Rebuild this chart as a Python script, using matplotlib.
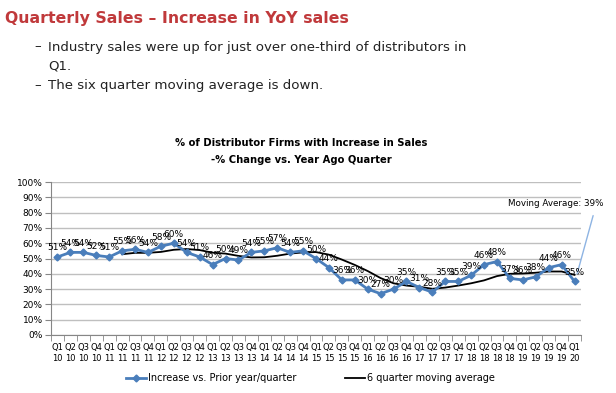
import matplotlib.pyplot as plt
import numpy as np

# Données
quarters = ["Q1", "Q2", "Q3", "Q4"]
years = ["10", "11", "12", "13", "14", "15", "16", "17", "18", "19", "20"]
tick_labels = [q + "\n" + y for y in years for q in quarters][:41]

increase = [51, 54, 54, 52, 51, 55, 56, 54, 58, 60, 54, 51, 46, 50, 49, 54,
            55, 57, 54, 55, 50, 44, 36, 36, 30, 27, 30, 35, 31, 28, 35, 35,
            39, 46, 48, 37, 36, 38, 44, 46, 35]

# moyenne mobile 6 trimestres (commence au Q2 11)
moving_avg = [52.8, 53.7, 53.7, 54.3, 55.7, 56.2, 55.5, 53.8, 53.2, 51.7,
              50.7, 50.8, 51.8, 53.2, 54.0, 54.2, 52.5, 49.3, 45.8, 41.8,
              37.2, 33.8, 32.3, 31.5, 30.2, 31.0, 32.3, 33.8, 35.7, 38.5,
              40.0, 40.2, 40.7, 41.5, 41.5, 39.3]

W, H = 616, 393
fig = plt.figure(figsize=(W / 100, H / 100), dpi=100)

# En-tête de la diapositive
fig.text(5 / W, 1 - 19 / H, "Quarterly Sales \u2013 Increase in YoY sales",
         color="#C0393B", fontsize=11.3, fontweight="bold", va="center")
fig.text(34 / W, 1 - 47 / H, "\u2013", fontsize=9.6, color="#222222", va="center")
fig.text(48 / W, 1 - 47 / H,
         "Industry sales were up for just over one-third of distributors in",
         fontsize=9.6, color="#222222", va="center")
fig.text(48 / W, 1 - 66 / H, "Q1.", fontsize=9.6, color="#222222", va="center")
fig.text(34 / W, 1 - 86 / H, "\u2013", fontsize=9.6, color="#222222", va="center")
fig.text(48 / W, 1 - 86 / H, "The six quarter moving average is down.",
         fontsize=9.6, color="#222222", va="center")

# Titre du graphique
fig.text(301 / W, 1 - 143 / H, "% of Distributor Firms with Increase in Sales",
         fontsize=7.2, fontweight="bold", ha="center", va="center")
fig.text(301 / W, 1 - 160 / H, "-% Change vs. Year Ago Quarter",
         fontsize=7.2, fontweight="bold", ha="center", va="center")

ax = fig.add_axes([51 / W, 58 / H, 530 / W, 153 / H])

x = np.arange(len(increase))
x_ma = np.arange(5, 5 + len(moving_avg))

ax.plot(x_ma, moving_avg, color="black", lw=1.3, zorder=2)
ax.plot(x, increase, color="#4A7EBB", lw=2, marker="D", ms=3.5, zorder=3)

for xi, v in zip(x, increase):
    ax.text(xi, v + 3, f"{v}%", fontsize=6.5, ha="center", va="bottom", zorder=4)

ax.annotate("Moving Average: 39%", xy=(40.2, 40), xytext=(603, H - 203),
            textcoords="figure pixels", fontsize=6.3, ha="right", va="center",
            annotation_clip=False,
            arrowprops=dict(arrowstyle="-", color="#8EB4E3", lw=1,
                            shrinkA=4, shrinkB=0, relpos=(0.92, 0)))

ax.set_xlim(-0.5, len(increase) - 0.5)
ax.set_ylim(0, 100)
ax.set_yticks(np.arange(0, 101, 10))
ax.set_yticklabels([f"{t}%" for t in range(0, 101, 10)], fontsize=6.5)
ax.set_xticks(x)
ax.set_xticklabels(tick_labels, fontsize=6)
ax.set_xticks(np.arange(-0.5, len(increase), 1), minor=True)
ax.tick_params(axis="x", which="major", length=0, pad=6)
ax.tick_params(axis="x", which="minor", length=4, color="#868686")
ax.tick_params(axis="y", length=4, color="#868686", pad=2)

ax.grid(axis="y", color="#BFBFBF", lw=1)
ax.set_axisbelow(True)
for s in ["top", "right"]:
    ax.spines[s].set_visible(False)
for s in ["left", "bottom"]:
    ax.spines[s].set_color("#868686")

# Légende
lax = fig.add_axes([0, 0, 1, 1])
lax.axis("off")
lax.set_xlim(0, W)
lax.set_ylim(H, 0)
lax.plot([126, 146], [378, 378], color="#4A7EBB", lw=2)
lax.plot([136], [378], color="#4A7EBB", marker="D", ms=3.5)
lax.text(148, 378, "Increase vs. Prior year/quarter", fontsize=7, va="center")
lax.plot([345, 365], [378, 378], color="black", lw=1.3)
lax.text(367, 378, "6 quarter moving average", fontsize=7, va="center")

fig.savefig("out.png", dpi=100)
